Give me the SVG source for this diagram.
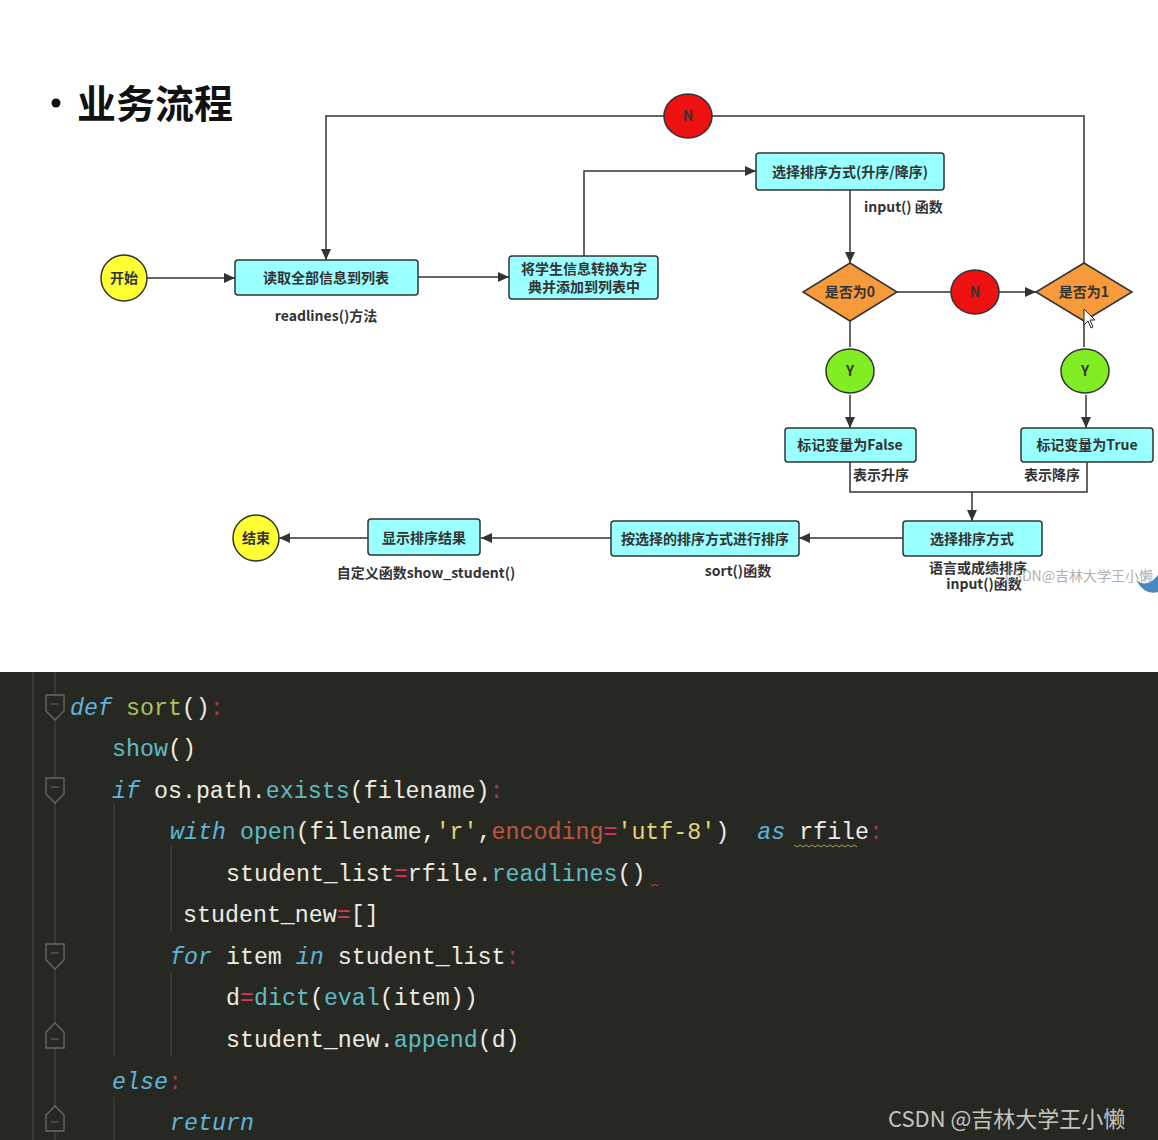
<svg xmlns="http://www.w3.org/2000/svg" width="1158" height="1140" viewBox="0 0 1158 1140">
<style>
.t{font-family:"Noto Sans CJK SC","Liberation Sans",sans-serif;font-size:14px;font-weight:bold;fill:#333;text-anchor:middle}
.l{font-family:"Noto Sans CJK SC","Liberation Sans",sans-serif;font-size:14px;font-weight:bold;fill:#333}
.box{fill:#99ffff;stroke:#333;stroke-width:1.5}
.dia{fill:#f79a3c;stroke:#333;stroke-width:1.5}
.yel{fill:#ffff33;stroke:#333;stroke-width:1.5}
.red{fill:#ee1111;stroke:#333;stroke-width:1.5}
.grn{fill:#80ee22;stroke:#333;stroke-width:1.5}
.c{fill:none;stroke:#333;stroke-width:1.5}
.ca{fill:none;stroke:#333;stroke-width:1.5;marker-end:url(#ah)}
.code{font-family:"Liberation Mono","DejaVu Sans Mono",monospace;font-size:23.3px;fill:#ecece4}
.kw{fill:#5fb4d8;font-style:italic}
.fn{fill:#a8c45c}
.bi{fill:#5fbcc4}
.op{fill:#d23a5c}
.cl{fill:#a33a52}
.st{fill:#e2d474}
.pa{fill:#c0553e}
.guide{stroke:#4a4a46;stroke-width:1}
.fold{fill:#272822;stroke:#6a6a66;stroke-width:1.3}
</style>
<defs>
<marker id="ah" markerUnits="userSpaceOnUse" markerWidth="12" markerHeight="10" refX="11" refY="5" orient="auto">
<path d="M0,0 L11,5 L0,10 z" fill="#333"/>
</marker>
</defs>
<rect width="1158" height="1140" fill="#ffffff"/>

<g id="title">
<circle cx="56" cy="103" r="4.5" fill="#111"/>
<text x="77" y="118" font-family="Noto Sans CJK SC, sans-serif" font-size="39" font-weight="bold" fill="#111">业务流程</text>
</g>

<g id="connectors">
<path class="ca" d="M147,278 H235"/>
<path class="ca" d="M418,277 H509"/>
<path class="ca" d="M584,256 V171 H756"/>
<path class="ca" d="M850,190 V263"/>
<path class="c" d="M897,292 H951"/>
<path class="ca" d="M999,292 H1036"/>
<path class="c" d="M1084,263 V116 H712"/>
<path class="ca" d="M664,116 H326 V260"/>
<path class="c" d="M850,321 V347"/>
<path class="ca" d="M850,395 V428"/>
<path class="c" d="M1084,321 V347"/>
<path class="ca" d="M1086,395 V428"/>
<path class="c" d="M850,462 V492 H1087 V462"/>
<path class="ca" d="M972,492 V521"/>
<path class="ca" d="M903,538 H799"/>
<path class="ca" d="M611,538 H481"/>
<path class="ca" d="M368,538 H279"/>
</g>

<g id="n-start"><circle class="yel" cx="124" cy="278" r="23"/><text class="t" x="124" y="283">开始</text></g>
<g id="n-read"><rect class="box" x="235" y="260" width="183" height="35" rx="3"/><text class="t" x="326" y="283">读取全部信息到列表</text></g>
<g id="l-read"><text class="t" x="326" y="321">readlines()方法</text></g>
<g id="n-convert"><rect class="box" x="509" y="256" width="149" height="43" rx="3"/><text class="t" x="584" y="274">将学生信息转换为字</text><text class="t" x="584" y="292">典并添加到列表中</text></g>
<g id="n-select"><rect class="box" x="756" y="153" width="188" height="37" rx="3"/><text class="t" x="850" y="177">选择排序方式(升序/降序)</text></g>
<g id="l-select"><text class="l" x="864" y="212">input() 函数</text></g>
<g id="n-d0"><polygon class="dia" points="850,263 897,292 850,321 803,292"/><text class="t" x="850" y="297">是否为0</text></g>
<g id="n-n2"><ellipse class="red" cx="975" cy="292" rx="24" ry="22"/><text class="t" x="975" y="297">N</text></g>
<g id="n-d1"><polygon class="dia" points="1084,263 1132,292 1084,321 1036,292"/><text class="t" x="1084" y="297">是否为1</text></g>
<g id="n-n1"><ellipse class="red" cx="688" cy="116" rx="24" ry="22"/><text class="t" x="688" y="121">N</text></g>
<g id="n-y1"><ellipse class="grn" cx="850" cy="371" rx="24" ry="22"/><text class="t" x="850" y="376">Y</text></g>
<g id="n-y2"><ellipse class="grn" cx="1085" cy="371" rx="24" ry="22"/><text class="t" x="1085" y="376">Y</text></g>
<g id="n-false"><rect class="box" x="785" y="428" width="131" height="34" rx="3"/><text class="t" x="850" y="450">标记变量为False</text></g>
<g id="n-true"><rect class="box" x="1021" y="428" width="132" height="34" rx="3"/><text class="t" x="1087" y="450">标记变量为True</text></g>
<g id="l-asc"><text class="l" x="853" y="480">表示升序</text></g>
<g id="l-desc"><text class="l" x="1024" y="480">表示降序</text></g>
<g id="n-select2"><rect class="box" x="903" y="521" width="139" height="35" rx="3"/><text class="t" x="972" y="544">选择排序方式</text></g>
<g id="l-select2"><text class="t" x="978" y="573">语言或成绩排序</text><text class="t" x="984" y="589">input()函数</text></g>
<g id="n-sort"><rect class="box" x="611" y="521" width="188" height="35" rx="3"/><text class="t" x="705" y="544">按选择的排序方式进行排序</text></g>
<g id="l-sort"><text class="t" x="738" y="576">sort()函数</text></g>
<g id="n-show"><rect class="box" x="368" y="519" width="112" height="36" rx="3"/><text class="t" x="424" y="543">显示排序结果</text></g>
<g id="l-show"><text class="t" x="426" y="578">自定义函数show_student()</text></g>
<g id="n-end"><circle class="yel" cx="256" cy="538" r="23"/><text class="t" x="256" y="543">结束</text></g>

<g id="watermark1">
<text x="1005" y="581" font-family="Noto Sans CJK SC, sans-serif" font-size="14" fill="#9a9a9a" fill-opacity="0.8">CSDN@吉林大学王小懒</text>
<path d="M1136,580 Q1147,589 1158,575 L1158,592 Q1145,596 1136,580 z" fill="#4a86c0"/>
</g>
<g id="cursor">
<path d="M1084,309 L1084,325 L1088,321 L1091,328 L1093,327 L1090,320 L1095,320 z" fill="#fff" stroke="#222" stroke-width="1"/>
</g>

<g id="code">
<rect x="0" y="672" width="1158" height="468" fill="#272822"/>
<line class="guide" x1="33" y1="672" x2="33" y2="1140"/>
<line class="guide" x1="55" y1="672" x2="55" y2="1140"/>
<line class="guide" x1="114" y1="803" x2="114" y2="1057"/>
<line class="guide" x1="114" y1="1097" x2="114" y2="1140"/>
<line class="guide" x1="171" y1="846" x2="171" y2="932"/>
<line class="guide" x1="171" y1="972" x2="171" y2="1057"/>
<path class="fold" d="M46,695 H64 V711 L55,720 L46,711 z"/><line x1="51" y1="704" x2="59" y2="704" stroke="#6a6a66"/>
<path class="fold" d="M46,778 H64 V794 L55,803 L46,794 z"/><line x1="51" y1="787" x2="59" y2="787" stroke="#6a6a66"/>
<path class="fold" d="M46,944 H64 V960 L55,969 L46,960 z"/><line x1="51" y1="953" x2="59" y2="953" stroke="#6a6a66"/>
<path class="fold" d="M46,1048 H64 V1032 L55,1023 L46,1032 z"/><line x1="51" y1="1039" x2="59" y2="1039" stroke="#6a6a66"/>
<path class="fold" d="M46,1131 H64 V1115 L55,1106 L46,1115 z"/><line x1="51" y1="1122" x2="59" y2="1122" stroke="#6a6a66"/>

<text class="code" x="70" y="715" xml:space="preserve"><tspan class="kw">def</tspan> <tspan class="fn">sort</tspan>()<tspan class="cl">:</tspan></text>
<text class="code" x="112" y="756" xml:space="preserve"><tspan class="bi">show</tspan>()</text>
<text class="code" x="112" y="798" xml:space="preserve"><tspan class="kw">if</tspan> os.path.<tspan class="bi">exists</tspan>(filename)<tspan class="cl">:</tspan></text>
<text class="code" x="170" y="839" xml:space="preserve"><tspan class="kw">with</tspan> <tspan class="bi">open</tspan>(filename,<tspan class="st">'r'</tspan>,<tspan class="pa">encoding</tspan><tspan class="op">=</tspan><tspan class="st">'utf-8'</tspan>)  <tspan class="kw">as</tspan> rfile<tspan class="cl">:</tspan></text>
<path d="M794,845 l3,2 l3,-2 l3,2 l3,-2 l3,2 l3,-2 l3,2 l3,-2 l3,2 l3,-2 l3,2 l3,-2 l3,2 l3,-2 l3,2 l3,-2 l3,2 l3,-2 l3,2 l3,-2 l3,2" fill="none" stroke="#c8c060" stroke-width="0.8"/>
<text class="code" x="226" y="881" xml:space="preserve">student_list<tspan class="op">=</tspan>rfile.<tspan class="bi">readlines</tspan>()</text>
<path d="M651,884 l2,2 l2,-2 l2,2 l2,-2" fill="none" stroke="#d04040" stroke-width="1"/>
<text class="code" x="183" y="922" xml:space="preserve">student_new<tspan class="op">=</tspan>[]</text>
<text class="code" x="170" y="964" xml:space="preserve"><tspan class="kw">for</tspan> item <tspan class="kw">in</tspan> student_list<tspan class="cl">:</tspan></text>
<text class="code" x="226" y="1005" xml:space="preserve">d<tspan class="op">=</tspan><tspan class="bi">dict</tspan>(<tspan class="bi">eval</tspan>(item))</text>
<text class="code" x="226" y="1047" xml:space="preserve">student_new.<tspan class="bi">append</tspan>(d)</text>
<text class="code" x="112" y="1089" xml:space="preserve"><tspan class="kw">else</tspan><tspan class="cl">:</tspan></text>
<text class="code" x="170" y="1130" xml:space="preserve"><tspan class="kw">return</tspan></text>
</g>
<g id="watermark2">
<text x="888" y="1127" font-family="Noto Sans CJK SC, sans-serif" font-size="22" fill="#c4c4c0">CSDN @吉林大学王小懒</text>
</g>
</svg>
